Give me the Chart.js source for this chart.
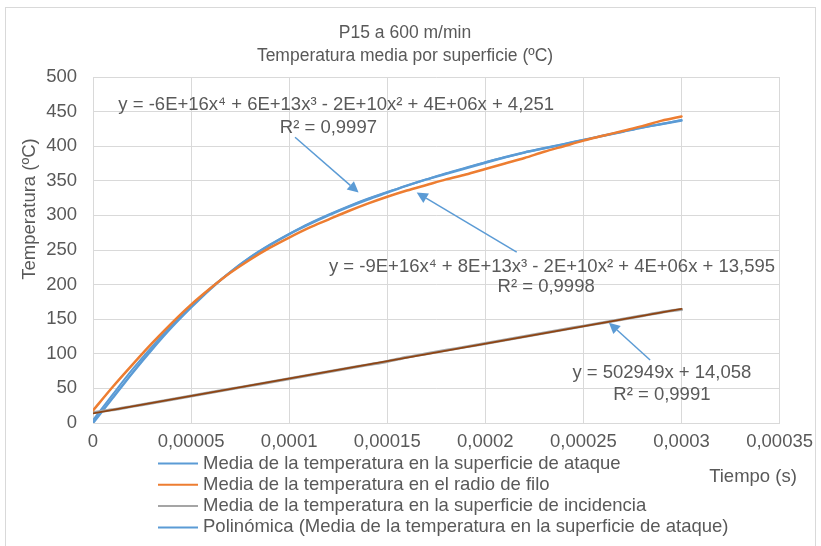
<!DOCTYPE html>
<html>
<head>
<meta charset="utf-8">
<script src="https://cdn.jsdelivr.net/npm/chart.js@4.4.1/dist/chart.umd.min.js"></script>
<style>
  html, body { margin: 0; padding: 0; background: #ffffff; }
  canvas { display: block; }
</style>
</head>
<body>
<canvas id="c" width="821" height="546"></canvas>
<script>
// Tiempo (s)
const tiempo = [0, 0.00001, 0.00002, 0.00003, 0.00004, 0.00005, 0.00006, 0.00007, 0.00008, 0.00009,
  0.0001, 0.00011, 0.00012, 0.00013, 0.00014, 0.00015, 0.00016, 0.00017, 0.00018, 0.00019,
  0.0002, 0.00021, 0.00022, 0.00023, 0.00024, 0.00025, 0.00026, 0.00027, 0.00028, 0.00029, 0.0003];

// Temperatura media (ºC) por superficie
const tAtaque = [0, 36, 72, 106, 138, 167, 194, 218, 239, 257,
  273, 287, 300, 312, 323, 333, 343, 352, 360, 368,
  376, 384, 391, 397, 403, 409, 415, 421, 427, 432, 437];
const tRadio = [18, 52, 84, 115, 144, 171, 195, 217, 236, 253,
  268, 282, 294, 306, 317, 327, 336, 344, 352, 359,
  367, 375, 383, 392, 400, 408, 415, 422, 429, 437, 443];
const tIncidencia = [15, 19, 24, 29, 34, 39, 44, 49, 54, 59,
  64, 69, 74, 79, 84, 89, 95, 100, 105, 110,
  115, 120, 125, 130, 135, 140, 145, 150, 155, 160, 164];

// Línea de tendencia polinómica (superficie de ataque)
const tendAtaque = [4, 41, 77, 110, 141, 169, 195, 218, 239, 257,
  273, 288, 301, 313, 324, 334, 343, 352, 361, 369,
  377, 384, 391, 397, 403, 409, 415, 421, 427, 432, 438];

// Tendencia lineal (superficie de incidencia): y = 502949x + 14,058
const linPendiente = 502949;
const linOrdenada = 14.058;
const linRango = [0, 0.0003];

// Etiquetas de ejes
const yTicks = [0, 50, 100, 150, 200, 250, 300, 350, 400, 450, 500];
const xTicks = [0, 0.00005, 0.0001, 0.00015, 0.0002, 0.00025, 0.0003, 0.00035];

const titulo = ['P15 a 600 m/min', 'Temperatura media por superficie (ºC)'];
const ejeY = 'Temperatura (ºC)';
const ejeX = 'Tiempo (s)';
const nombres = [
  'Media de la temperatura en la superficie de ataque',
  'Media de la temperatura en el radio de filo',
  'Media de la temperatura en la superficie de incidencia',
  'Polinómica (Media de la temperatura en la superficie de ataque)'
];

const AZUL = '#5B9BD5', NARANJA = '#ED7D31', GRIS = '#A5A5A5', MARRON = '#8E4413';
const TEXTO = '#595959', REJILLA = '#D9D9D9';
const FUENTE = '"Liberation Sans", Arial, sans-serif';

// Ecuaciones y flechas, ancladas en coordenadas de datos
const etiquetas = [
  { x: 0.000124, y: 460, t: 'y = -6E+16x\u2074 + 6E+13x\u00B3 - 2E+10x\u00B2 + 4E+06x + 4,251' },
  { x: 0.000120, y: 427, t: 'R\u00B2 = 0,9997' },
  { x: 0.000234, y: 226, t: 'y = -9E+16x\u2074 + 8E+13x\u00B3 - 2E+10x\u00B2 + 4E+06x + 13,595' },
  { x: 0.000231, y: 196, t: 'R\u00B2 = 0,9998' },
  { x: 0.000290, y: 73, t: 'y = 502949x + 14,058' },
  { x: 0.000290, y: 41, t: 'R\u00B2 = 0,9991' }
];
const flechas = [
  { x0: 0.000103, y0: 413, x1: 0.0001354, y1: 333 },
  { x0: 0.000216, y0: 247, x1: 0.000165, y1: 333 },
  { x0: 0.000284, y0: 91, x1: 0.000263, y1: 145 }
];

const pts = ys => tiempo.map((t, i) => ({ x: t, y: ys[i] }));
const lineaTend = linRango.map(t => ({ x: t, y: linPendiente * t + linOrdenada }));

const fmt = v => String(+v.toFixed(6)).replace('.', ',');

const decoracion = {
  id: 'decoracion',
  beforeDraw(chart) {
    const ctx = chart.ctx;
    ctx.save();
    ctx.fillStyle = '#ffffff';
    ctx.fillRect(0, 0, chart.width, chart.height);
    ctx.strokeStyle = REJILLA;
    ctx.lineWidth = 1;
    ctx.strokeRect(5.5, 7.5, 810, 545);
    ctx.restore();
  },
  afterDatasetsDraw(chart) {
    const ctx = chart.ctx;
    const sx = chart.scales.x, sy = chart.scales.y;
    ctx.save();
    // flechas
    ctx.strokeStyle = AZUL;
    ctx.fillStyle = AZUL;
    ctx.lineWidth = 1.5;
    flechas.forEach(f => {
      const ax = sx.getPixelForValue(f.x0), ay = sy.getPixelForValue(f.y0);
      const bx = sx.getPixelForValue(f.x1), by = sy.getPixelForValue(f.y1);
      const ang = Math.atan2(by - ay, bx - ax);
      const L = 11, W = 5.5;
      const cx = bx - L * Math.cos(ang), cy = by - L * Math.sin(ang);
      ctx.beginPath();
      ctx.moveTo(ax, ay);
      ctx.lineTo(cx, cy);
      ctx.stroke();
      ctx.beginPath();
      ctx.moveTo(bx, by);
      ctx.lineTo(cx + W * Math.sin(ang), cy - W * Math.cos(ang));
      ctx.lineTo(cx - W * Math.sin(ang), cy + W * Math.cos(ang));
      ctx.closePath();
      ctx.fill();
    });
    // ecuaciones
    ctx.fillStyle = TEXTO;
    ctx.font = '18.5px ' + FUENTE;
    ctx.textAlign = 'center';
    ctx.textBaseline = 'middle';
    etiquetas.forEach(e => {
      ctx.fillText(e.t, sx.getPixelForValue(e.x), sy.getPixelForValue(e.y));
    });
    ctx.restore();
  },
  afterDraw(chart) {
    const ctx = chart.ctx;
    ctx.save();
    ctx.fillStyle = TEXTO;
    ctx.textBaseline = 'middle';
    ctx.textAlign = 'center';
    ctx.font = '17.5px ' + FUENTE;
    ctx.fillText(titulo[0], 405, 33);
    ctx.fillText(titulo[1], 405, 56);
    ctx.font = '18.5px ' + FUENTE;
    // título del eje Y
    ctx.save();
    ctx.translate(30, 209);
    ctx.rotate(-Math.PI / 2);
    ctx.fillText(ejeY, 0, 0);
    ctx.restore();
    // título del eje X
    ctx.fillText(ejeX, 753, 477);
    // leyenda
    const colores = [AZUL, NARANJA, GRIS, AZUL];
    ctx.textAlign = 'left';
    nombres.forEach((n, i) => {
      const y = 463.5 + i * 21.3;
      ctx.strokeStyle = colores[i];
      ctx.lineWidth = 2;
      ctx.beginPath();
      ctx.moveTo(158, y);
      ctx.lineTo(198, y);
      ctx.stroke();
      ctx.fillText(n, 203, y);
    });
    ctx.restore();
  }
};

new Chart(document.getElementById('c'), {
  type: 'line',
  data: {
    datasets: [
      { label: nombres[0], data: pts(tAtaque), borderColor: AZUL, borderWidth: 2.5, order: 5 },
      { label: nombres[3], data: pts(tendAtaque), borderColor: AZUL, borderWidth: 2, order: 4 },
      { label: nombres[2], data: pts(tIncidencia), borderColor: GRIS, borderWidth: 3, order: 3 },
      { label: 'Lineal (incidencia)', data: lineaTend, borderColor: MARRON, borderWidth: 1.75, order: 2 },
      { label: nombres[1], data: pts(tRadio), borderColor: NARANJA, borderWidth: 2.5, order: 1 }
    ]
  },
  options: {
    responsive: false,
    animation: false,
    devicePixelRatio: 1,
    elements: {
      point: { radius: 0, hoverRadius: 0 },
      line: { tension: 0.3, fill: false, borderCapStyle: 'round', borderJoinStyle: 'round' }
    },
    layout: { padding: { top: 77, left: 0, right: 38, bottom: 0 } },
    plugins: {
      legend: { display: false },
      title: { display: false },
      tooltip: { enabled: false }
    },
    scales: {
      x: {
        type: 'linear',
        min: 0,
        max: 0.00035,
        afterFit: s => { s.height = 123; },
        afterBuildTicks: s => { s.ticks = xTicks.map(v => ({ value: v })); },
        grid: { color: REJILLA, lineWidth: 1, drawTicks: false, tickLength: 0 },
        border: { color: REJILLA },
        ticks: {
          padding: 8,
          color: TEXTO,
          font: { size: 18.5, family: FUENTE },
          maxRotation: 0,
          autoSkip: false,
          callback: v => fmt(v)
        }
      },
      y: {
        min: 0,
        max: 500,
        afterFit: s => { s.width = 93; },
        afterBuildTicks: s => { s.ticks = yTicks.map(v => ({ value: v })); },
        grid: { color: REJILLA, lineWidth: 1, drawTicks: false, tickLength: 0 },
        border: { color: REJILLA },
        ticks: {
          padding: 16,
          color: TEXTO,
          font: { size: 18.5, family: FUENTE },
          callback: v => String(v)
        }
      }
    }
  },
  plugins: [decoracion]
});
</script>
</body>
</html>
